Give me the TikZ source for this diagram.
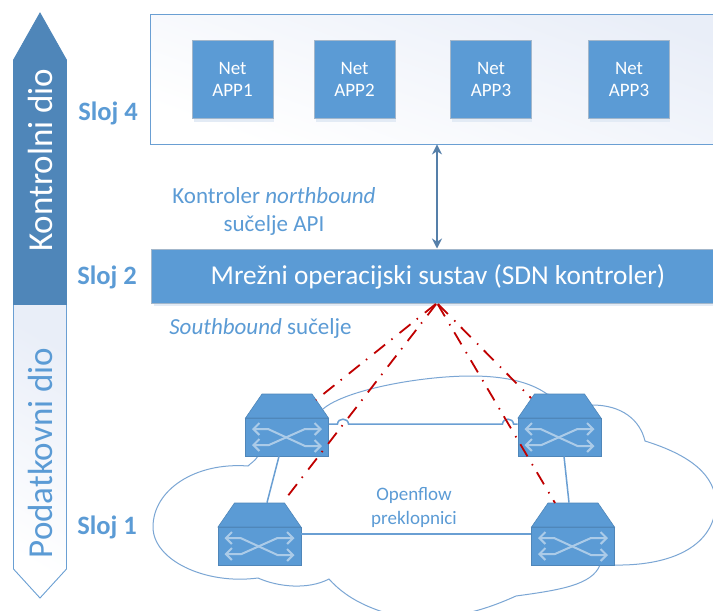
\documentclass[tikz,border=0pt]{standalone}
\usepackage{fontspec}
\setmainfont{Carlito}
\usetikzlibrary{arrows.meta,calc}
\definecolor{mblue}{HTML}{5B9BD5}
\definecolor{dblue}{HTML}{4F86B9}
\definecolor{lnk}{HTML}{6A9FD3}
\definecolor{cld}{HTML}{7BA6D4}
\definecolor{redl}{HTML}{C00000}
\definecolor{pale}{HTML}{E9EEF8}
\definecolor{arr}{HTML}{ABCBE8}
\definecolor{shad}{HTML}{E3EBF5}
\definecolor{appedge}{HTML}{A3B7CB}
\tikzset{
  x=1pt,y=-1pt,
  bluebox/.style={draw=appedge,line width=1pt,fill=mblue,text=white,align=center,font=\fontsize{19}{22}\selectfont,inner sep=0pt},
  swbody/.style={draw=dblue,line width=0.7pt,fill=mblue,minimum width=83pt,minimum height=38pt,inner sep=0pt},
  swlink/.style={draw=lnk,line width=1.5pt},
  redline/.style={draw=redl,line width=1.8pt,dash pattern=on 14pt off 9pt on 1.5pt off 8pt,dash phase=31pt},
  lbl/.style={text=mblue,align=center,inner sep=0pt},
  sloj/.style={text=mblue,font=\fontsize{26.5}{28}\selectfont\bfseries,inner sep=0pt},
  swarr/.style={draw=arr,line width=2pt,{Straight Barb[length=6pt,width=12pt]}-{Straight Barb[length=6pt,width=12pt]}},
  pics/swtop/.style={code={
    \draw[dblue,fill=mblue,line width=0.6pt] (-41.5,-19) -- (-25,-43) -- (25,-43) -- (41.5,-19) -- cycle;
  }},
  pics/swx/.style={code={
    \draw[swarr] (-35,-8) -- (-19,-8) -- (18,9) -- (35,9);
    \draw[swarr] (-35,8) -- (-18,8) -- (18,-8) -- (35,-8);
  }}
}
\begin{document}
\begin{tikzpicture}
\clip (0,0) rectangle (713,611);
\fill[white] (0,0) rectangle (713,611);
% cloud
\draw[cld,line width=1pt] (258,456) .. controls (255,461) and (251,463) .. (248,466)
  .. controls (195,462) and (153,490) .. (153,527)
  .. controls (153,560) and (205,585) .. (258,578)
  .. controls (278,587) and (308,590) .. (329,579)
  .. controls (345,597) and (365,606) .. (383,612)
  .. controls (410,620) and (445,618) .. (471,612)
  .. controls (488,608) and (505,601) .. (516,596)
  .. controls (560,590) and (592,585) .. (600,565)
  -- (614,565)
  .. controls (665,566) and (713,550) .. (716,505)
  .. controls (716,475) and (690,455) .. (645,441)
  .. controls (640,420) and (622,405) .. (592,405)
  -- (547,394)
  .. controls (530,382) and (505,376) .. (471,376)
  .. controls (420,376) and (345,390) .. (323,409);
% side arrows
\draw[dblue,fill=dblue,line width=0.8pt] (13.5,305) -- (13.5,60) -- (40,13) -- (66.5,60) -- (66.5,305) -- cycle;
\path[shade,top color=pale,bottom color=white,shading angle=-30] (13.5,305) -- (66.5,305) -- (66.5,569) -- (40,598) -- (13.5,569) -- cycle;
\draw[lnk,line width=0.9pt] (13.5,305) -- (13.5,569) -- (40,598) -- (66.5,569) -- (66.5,305);
\node[rotate=90,text=white,font=\fontsize{35}{38}\selectfont,inner sep=0pt] (kd) at (40.5,160) {Kontrolni dio};
\node[rotate=90,text=mblue,font=\fontsize{35}{38}\selectfont,inner sep=0pt] (pd) at (40.5,453) {Podatkovni dio};
% top box
\node[draw=lnk,line width=0.9pt,top color=pale,bottom color=white,shading angle=-20,minimum width=600pt,minimum height=130pt,inner sep=0pt] (top) at (450.5,79) {};
\foreach \xx in {232.5,354.5,491,629}{\fill[shad] (\xx-39,44) rectangle (\xx+41,122);}
\node[bluebox,minimum width=81pt,minimum height=78pt] (a1) at (232.5,79) {Net\\APP1};
\node[bluebox,minimum width=81pt,minimum height=78pt] (a2) at (354.5,79) {Net\\APP2};
\node[bluebox,minimum width=81pt,minimum height=78pt] (a3) at (491,79) {Net\\APP3};
\node[bluebox,minimum width=81pt,minimum height=78pt] (a4) at (629,79) {Net\\APP3};
% controller
\fill[shad] (154,252) rectangle (713,306);
\node[bluebox,minimum width=600pt,minimum height=54pt] (ctrl) at (451,276) {};
\node[text=white,font=\fontsize{27.3}{30}\selectfont,inner sep=0pt] (ctrltxt) at (438,277) {Mrežni operacijski sustav (SDN kontroler)};
\coordinate (apex) at (437,303);
\draw[draw=lnk!80!black,line width=1.2pt,{Stealth[length=10pt,width=10pt]}-{Stealth[length=10pt,width=10pt]}] (top.south -| apex) -- (ctrl.north -| apex);
% labels
\node[sloj] (s4) at (108,113) {Sloj 4};
\node[sloj] (s2) at (107,277) {Sloj 2};
\node[sloj] (s1) at (107,527) {Sloj 1};
\node[lbl,font=\fontsize{23}{28}\selectfont] (nb) at (274,211) {Kontroler \textit{northbound}\\sučelje API};
\node[lbl,font=\fontsize{23}{26}\selectfont] (sb) at (260.5,328) {\textit{Southbound} sučelje};
\node[lbl,font=\fontsize{19}{24}\selectfont] (of) at (414,507) {Openflow\\preklopnici};
% switches
\node[swbody] (tl) at (287,437) {};
\node[swbody] (tr) at (559.5,437) {};
\node[swbody] (bl) at (259.5,546) {};
\node[swbody] (br) at (573,546) {};
% links
\draw[swlink] ([yshift=13pt]tl.east) -- (337.5,424) .. controls (338,417.5) and (348,417.5) .. (348.5,424) -- (502.5,424) .. controls (503,417.5) and (513,417.5) .. (513.5,424) -- ([yshift=13pt]tr.west);
\draw[swlink] ([yshift=12pt]bl.east) -- ([yshift=12pt]br.west);
\draw[swlink] ([xshift=-8pt]tl.south) -- ([xshift=7.5pt,yshift=24pt]bl.north);
\draw[swlink] ([xshift=4.5pt]tr.south) -- ([xshift=-4pt,yshift=24pt]br.north);
\foreach \n in {tl,tr,bl,br}{
  \pic at (\n) {swtop};
  \pic at (\n) {swx};
}
% red
\coordinate (r1) at (316,400);
\coordinate (r2) at (287,497);
\coordinate (r3) at (531,398);
\coordinate (r4) at (555,503);
\draw[redline] (apex) -- (r1);
\draw[redline] (apex) -- (r2);
\draw[redline] (apex) -- (r3);
\draw[redline] (apex) -- (r4);
\end{tikzpicture}
\end{document}
